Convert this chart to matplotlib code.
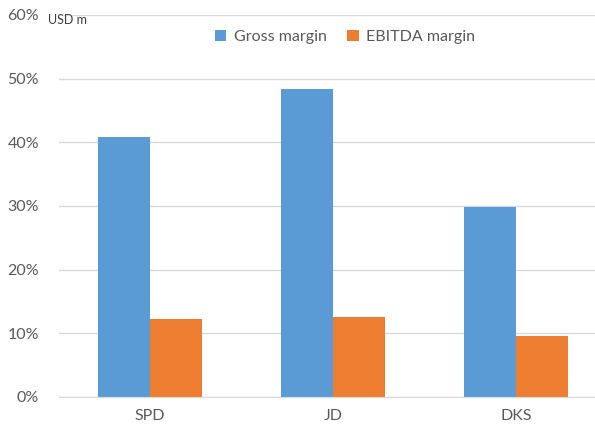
import matplotlib.pyplot as plt
import numpy as np

categories = ['SPD', 'JD', 'DKS']
gross_margin = [40.9, 48.4, 29.8]
ebitda_margin = [12.2, 12.5, 9.6]
y_ticks = [0, 10, 20, 30, 40, 50, 60]

blue = '#5B9BD5'
orange = '#ED7D31'
grey_text = '#595959'

plt.rcParams['font.family'] = ['Lato', 'DejaVu Sans']

fig = plt.figure(figsize=(5.95, 4.3), dpi=100)
ax = fig.add_axes([58.5 / 595, 1 - 397 / 430, 1 - 58.5 / 595, (397 - 15) / 430])

x = np.arange(len(categories))
w = 0.285
ax.bar(x - w / 2, gross_margin, w, color=blue, label='Gross margin')
ax.bar(x + w / 2, ebitda_margin, w, color=orange, label='EBITDA margin')

ax.set_xlim(-0.5, 2.43)
ax.set_ylim(0, 60)
ax.set_yticks(y_ticks)
ax.set_yticklabels([f'{v}%' for v in y_ticks])
ax.set_xticks(x)
ax.set_xticklabels(categories)
ax.tick_params(axis='both', length=0, labelsize=11.5, colors=grey_text)
ax.tick_params(axis='y', pad=14)
ax.tick_params(axis='x', pad=9)

ax.grid(axis='y', color='#D9D9D9', linewidth=1)
ax.set_axisbelow(True)
for s in ['top', 'right', 'left']:
    ax.spines[s].set_visible(False)
ax.spines['bottom'].set_color('#D9D9D9')

fig.text(48 / 595, 1 - 20 / 430, 'USD m', fontsize=9, color='#404040', va='center', ha='left')

ax.legend(loc='center', bbox_to_anchor=(345 / 595, 1 - 37 / 430), bbox_transform=fig.transFigure,
          ncol=2, frameon=False, fontsize=11.5, handlelength=0.7, handleheight=0.7,
          handletextpad=0.5, columnspacing=1.3, labelcolor=grey_text)

fig.savefig('out.png', dpi=100)
